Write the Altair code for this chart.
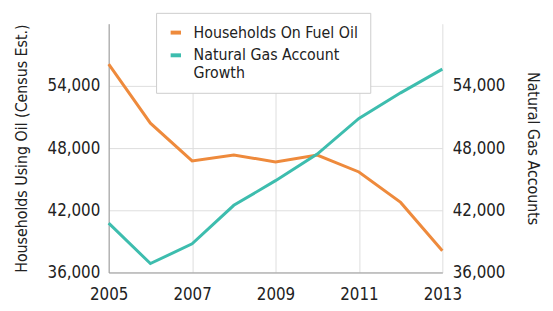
import altair as alt
import pandas as pd

years = [2005, 2006, 2007, 2008, 2009, 2010, 2011, 2012, 2013]
oil = [56100, 50400, 46760, 47330, 46670, 47330, 45700, 42760, 38100]
gas = [40760, 36860, 38760, 42480, 44860, 47430, 50860, 53330, 55620]
series_names = ["Households On Fuel Oil", "Natural Gas Account Growth"]
colors = ["#EE8A3C", "#3DBDAE"]
y_ticks = [36000, 42000, 48000, 54000]
x_ticks = [2005, 2007, 2009, 2011, 2013]

df = pd.DataFrame({
    "year": years * 2,
    "value": oil + gas,
    "series": [series_names[0]] * len(years) + [series_names[1]] * len(years),
})

FONT = "DejaVu Sans Condensed"
color_scale = alt.Scale(domain=series_names, range=colors)
x_enc = alt.X("year:Q", scale=alt.Scale(domain=[2005, 2013], nice=False),
              axis=alt.Axis(values=x_ticks, format="d", title=None, grid=True,
                            ticks=False, labelPadding=14, labelFontSize=17, labelFlush=False,
                            domainColor="#999999", gridColor="#dddddd"))

legend = alt.Legend(title=None, orient="none", legendX=48, legendY=-11,
                    symbolType="stroke", symbolStrokeWidth=4, symbolSize=110,
                    labelFontSize=16, labelFont=FONT, labelColor="#222222",
                    labelOffset=10, rowPadding=7, labelLimit=300,
                    padding=12, fillColor="white", strokeColor="#cccccc",
                    labelExpr="datum.label == 'Natural Gas Account Growth' ? ['Natural Gas Account', 'Growth'] : datum.label")

oil_line = alt.Chart(df).transform_filter(alt.datum.series == series_names[0]).mark_line(strokeWidth=3).encode(
    x=x_enc,
    y=alt.Y("value:Q", scale=alt.Scale(domain=[36000, 60000], nice=False),
            axis=alt.Axis(values=y_ticks, format=",d", title="Households Using Oil (Census Est.)",
                          ticks=False, labelPadding=9, labelFontSize=17, titleFontSize=16,
                          titleFontWeight="normal", titlePadding=18, grid=True,
                          gridColor="#dddddd", domainColor="#999999")),
    color=alt.Color("series:N", scale=color_scale, legend=legend),
)

gas_line = alt.Chart(df).transform_filter(alt.datum.series == series_names[1]).mark_line(strokeWidth=3).encode(
    x=x_enc,
    y=alt.Y("value:Q", scale=alt.Scale(domain=[36000, 60000], nice=False),
            axis=alt.Axis(values=y_ticks, format=",d", title="Natural Gas Accounts", orient="right",
                          ticks=False, labelPadding=10, labelFontSize=17, titleFontSize=16,
                          titleFontWeight="normal", titlePadding=20, grid=False, domain=False)),
    color=alt.Color("series:N", scale=color_scale, legend=legend),
)

chart = alt.layer(oil_line, gas_line).resolve_scale(y="independent").properties(
    width=338, height=252,
    autosize=alt.AutoSizeParams(type="none"),
    padding={"left": 102, "top": 14, "right": 104, "bottom": 29},
).configure_view(stroke=None).configure_axis(
    labelFont=FONT, titleFont=FONT, labelColor="#222222", titleColor="#222222"
)

chart.save("out.html", embed_options={"renderer": "svg", "actions": False})
